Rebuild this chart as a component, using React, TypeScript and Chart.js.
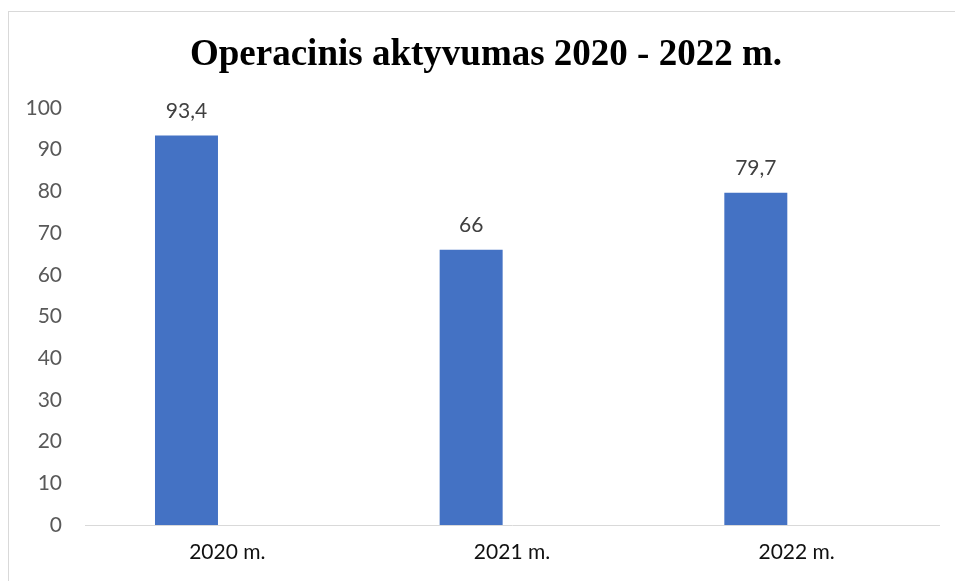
import React, { useEffect, useRef } from "react";
import { Chart, registerables } from "chart.js";

Chart.register(...registerables);

const categories = ["2020 m.", "2021 m.", "2022 m."];
const values = [93.4, 66, 79.7];
const emptySeries = [null, null, null];
const titleText = "Operacinis aktyvumas 2020 - 2022 m.";

const labelFont = "Lato";

const dataLabelPlugin = {
  id: "dataLabels",
  afterDatasetsDraw(chart: any) {
    const ctx = chart.ctx;
    const meta = chart.getDatasetMeta(0);
    ctx.save();
    ctx.font = `21px ${labelFont}`;
    ctx.fillStyle = "#404040";
    ctx.textAlign = "center";
    ctx.textBaseline = "alphabetic";
    meta.data.forEach((bar: any, i: number) => {
      const v = values[i];
      ctx.fillText(String(v).replace(".", ","), bar.x, bar.y - 18);
    });
    ctx.restore();
  },
};

export default function App() {
  const ref = useRef<HTMLCanvasElement>(null);
  useEffect(() => {
    document.body.style.overflow = "hidden";
    document.documentElement.style.overflow = "hidden";
    if (!ref.current) return;
    const chart = new Chart(ref.current, {
      type: "bar",
      data: {
        labels: categories,
        datasets: [
          {
            data: values,
            backgroundColor: "#4472C4",
            categoryPercentage: 0.574,
            barPercentage: 0.771,
          },
          {
            data: emptySeries as any,
            backgroundColor: "#ED7D31",
            categoryPercentage: 0.574,
            barPercentage: 0.771,
          },
        ],
      },
      options: {
        responsive: false,
        animation: false,
        layout: { padding: { left: 0, right: 0, top: 0, bottom: 14 } },
        plugins: {
          legend: { display: false },
          tooltip: { enabled: false },
          title: {
            display: true,
            text: titleText,
            color: "#000000",
            font: { family: "Liberation Serif", size: 37, weight: "bold", lineHeight: 1.2 },
            padding: { top: 21, bottom: 30.6 },
          },
        },
        scales: {
          x: {
            grid: { display: false, drawTicks: false },
            border: { display: true, color: "#d9d9d9", width: 1 },
            ticks: { color: "#111111", font: { family: labelFont, size: 21 }, padding: 15 },
            afterFit(scale: any) {
              scale.height = 43;
            },
          },
          y: {
            min: 0,
            max: 100,
            position: "left",
            grid: { display: false, drawTicks: false },
            border: { display: false },
            ticks: {
              stepSize: 10,
              color: "#595959",
              font: { family: labelFont, size: 21 },
              padding: 23,
            },
            afterFit(scale: any) {
              scale.width = 76;
            },
          },
          yRight: {
            position: "right",
            display: true,
            min: 0,
            max: 100,
            grid: { display: false, drawTicks: false },
            border: { display: false },
            ticks: { display: false },
            afterFit(scale: any) {
              scale.width = 24;
            },
          },
        },
      },
      plugins: [dataLabelPlugin],
    });
    return () => chart.destroy();
  }, []);

  return (
    <div
      style={{
        position: "fixed",
        left: 0,
        top: 0,
        width: 955,
        height: 581,
        overflow: "hidden",
        background: "#ffffff",
      }}
    >
      <div
        style={{
          position: "absolute",
          left: 8,
          top: 11,
          width: 962,
          height: 580,
          border: "1px solid #d9d9d9",
        }}
      >
        <canvas ref={ref} width={954} height={570} style={{ display: "block" }} />
      </div>
    </div>
  );
}
